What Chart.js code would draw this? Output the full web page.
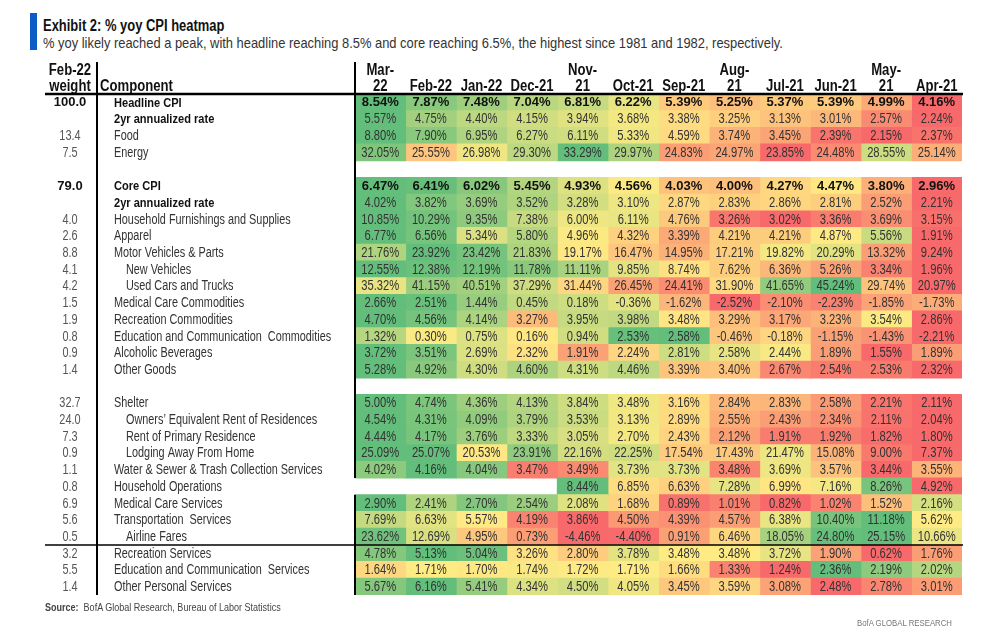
<!DOCTYPE html>
<html>
<head>
<meta charset="utf-8">
<title>% yoy CPI heatmap</title>
<script src="https://cdn.jsdelivr.net/npm/chart.js@4.4.1/dist/chart.umd.min.js"></script>
<style>
  body { margin: 0; background: #fff; }
  #wrap { position: relative; width: 986px; height: 638px; font-family: 'Liberation Sans', Arial, sans-serif; color: #222; }
  #bar { position: absolute; left: 30px; top: 13px; width: 7px; height: 37px; background: #0b5cc4; }
  .sq { position: absolute; white-space: nowrap; transform: scaleX(0.82); transform-origin: 0 0; }
  #title { left: 43px; top: 16px; font-size: 16px; font-weight: bold; line-height: 20px; color: #111; transform: scaleX(0.81); }
  #subtitle { left: 43px; top: 34px; font-size: 15px; line-height: 18px; color: #333; transform: scaleX(0.86); }
  #source { left: 45px; top: 601px; font-size: 11px; color: #444; }
  #footer { left: 857px; top: 617px; font-size: 9.5px; color: #777; }
  canvas { position: absolute; left: 0; top: 0; }
</style>
</head>
<body>
<div id="wrap">
  <div id="bar"></div>
  <div id="title" class="sq">Exhibit 2: % yoy CPI heatmap</div>
  <div id="subtitle" class="sq">% yoy likely reached a peak, with headline reaching 8.5% and core reaching 6.5%, the highest since 1981 and 1982, respectively.</div>
  <canvas id="heatmap" width="986" height="638"></canvas>
  <div id="source" class="sq"><b>Source:</b>&nbsp; BofA Global Research, Bureau of Labor Statistics</div>
  <div id="footer" class="sq">BofA GLOBAL RESEARCH</div>
</div>
<script>
const months = ['Mar-22', 'Feb-22', 'Jan-22', 'Dec-21', 'Nov-21', 'Oct-21', 'Sep-21', 'Aug-21', 'Jul-21', 'Jun-21', 'May-21', 'Apr-21'];
const monthHeads = [['Mar-', '22'], ['Feb-22'], ['Jan-22'], ['Dec-21'], ['Nov-', '21'], ['Oct-21'], ['Sep-21'], ['Aug-', '21'], ['Jul-21'], ['Jun-21'], ['May-', '21'], ['Apr-21']];

const components = ['Headline CPI', '2yr annualized rate', 'Food', 'Energy', '',
  'Core CPI', '2yr annualized rate', 'Household Furnishings and Supplies', 'Apparel', 'Motor Vehicles & Parts',
  'New Vehicles', 'Used Cars and Trucks', 'Medical Care Commodities', 'Recreation Commodities',
  'Education and Communication  Commodities', 'Alcoholic Beverages', 'Other Goods', '',
  'Shelter', 'Owners\u2019 Equivalent Rent of Residences', 'Rent of Primary Residence', 'Lodging Away From Home',
  'Water & Sewer & Trash Collection Services', 'Household Operations', 'Medical Care Services',
  'Transportation  Services', 'Airline Fares', 'Recreation Services', 'Education and Communication  Services',
  'Other Personal Services'];
const weights = ['100.0', '', '13.4', '7.5', '', '79.0', '', '4.0', '2.6', '8.8', '4.1', '4.2', '1.5', '1.9', '0.8', '0.9', '1.4', '',
  '32.7', '24.0', '7.3', '0.9', '1.1', '0.8', '6.9', '5.6', '0.5', '3.2', '5.5', '1.4'];

const headlineCpi = [8.54, 7.87, 7.48, 7.04, 6.81, 6.22, 5.39, 5.25, 5.37, 5.39, 4.99, 4.16];
const headline2yr = [5.57, 4.75, 4.40, 4.15, 3.94, 3.68, 3.38, 3.25, 3.13, 3.01, 2.57, 2.24];
const food = [8.80, 7.90, 6.95, 6.27, 6.11, 5.33, 4.59, 3.74, 3.45, 2.39, 2.15, 2.37];
const energy = [32.05, 25.55, 26.98, 29.30, 33.29, 29.97, 24.83, 24.97, 23.85, 24.48, 28.55, 25.14];
const coreCpi = [6.47, 6.41, 6.02, 5.45, 4.93, 4.56, 4.03, 4.00, 4.27, 4.47, 3.80, 2.96];
const core2yr = [4.02, 3.82, 3.69, 3.52, 3.28, 3.10, 2.87, 2.83, 2.86, 2.81, 2.52, 2.21];
const furnishings = [10.85, 10.29, 9.35, 7.38, 6.00, 6.11, 4.76, 3.26, 3.02, 3.36, 3.69, 3.15];
const apparel = [6.77, 6.56, 5.34, 5.80, 4.96, 4.32, 3.39, 4.21, 4.21, 4.87, 5.56, 1.91];
const motorVehicles = [21.76, 23.92, 23.42, 21.83, 19.17, 16.47, 14.95, 17.21, 19.82, 20.29, 13.32, 9.24];
const newVehicles = [12.55, 12.38, 12.19, 11.78, 11.11, 9.85, 8.74, 7.62, 6.36, 5.26, 3.34, 1.96];
const usedCars = [35.32, 41.15, 40.51, 37.29, 31.44, 26.45, 24.41, 31.90, 41.65, 45.24, 29.74, 20.97];
const medCommodities = [2.66, 2.51, 1.44, 0.45, 0.18, -0.36, -1.62, -2.52, -2.10, -2.23, -1.85, -1.73];
const recCommodities = [4.70, 4.56, 4.14, 3.27, 3.95, 3.98, 3.48, 3.29, 3.17, 3.23, 3.54, 2.86];
const eduCommodities = [1.32, 0.30, 0.75, 0.16, 0.94, 2.53, 2.58, -0.46, -0.18, -1.15, -1.43, -2.21];
const alcohol = [3.72, 3.51, 2.69, 2.32, 1.91, 2.24, 2.81, 2.58, 2.44, 1.89, 1.55, 1.89];
const otherGoods = [5.28, 4.92, 4.30, 4.60, 4.31, 4.46, 3.39, 3.40, 2.67, 2.54, 2.53, 2.32];
const shelter = [5.00, 4.74, 4.36, 4.13, 3.84, 3.48, 3.16, 2.84, 2.83, 2.58, 2.21, 2.11];
const ownersRent = [4.54, 4.31, 4.09, 3.79, 3.53, 3.13, 2.89, 2.55, 2.43, 2.34, 2.11, 2.04];
const rentPrimary = [4.44, 4.17, 3.76, 3.33, 3.05, 2.70, 2.43, 2.12, 1.91, 1.92, 1.82, 1.80];
const lodging = [25.09, 25.07, 20.53, 23.91, 22.16, 22.25, 17.54, 17.43, 21.47, 15.08, 9.00, 7.37];
const waterSewer = [4.02, 4.16, 4.04, 3.47, 3.49, 3.73, 3.73, 3.48, 3.69, 3.57, 3.44, 3.55];
const householdOps = [null, null, null, null, 8.44, 6.85, 6.63, 7.28, 6.99, 7.16, 8.26, 4.92];
const medServices = [2.90, 2.41, 2.70, 2.54, 2.08, 1.68, 0.89, 1.01, 0.82, 1.02, 1.52, 2.16];
const transport = [7.69, 6.63, 5.57, 4.19, 3.86, 4.50, 4.39, 4.57, 6.38, 10.40, 11.18, 5.62];
const airlineFares = [23.62, 12.69, 4.95, 0.73, -4.46, -4.40, 0.91, 6.46, 18.05, 24.80, 25.15, 10.66];
const recServices = [4.78, 5.13, 5.04, 3.26, 2.80, 3.78, 3.48, 3.48, 3.72, 1.90, 0.62, 1.76];
const eduServices = [1.64, 1.71, 1.70, 1.74, 1.72, 1.71, 1.66, 1.33, 1.24, 2.36, 2.19, 2.02];
const otherPersonal = [5.67, 6.16, 5.41, 4.34, 4.50, 4.05, 3.45, 3.59, 3.08, 2.48, 2.78, 3.01];

const rowValues = [headlineCpi, headline2yr, food, energy, null,
  coreCpi, core2yr, furnishings, apparel, motorVehicles, newVehicles, usedCars, medCommodities,
  recCommodities, eduCommodities, alcohol, otherGoods, null,
  shelter, ownersRent, rentPrimary, lodging, waterSewer, householdOps, medServices, transport,
  airlineFares, recServices, eduServices, otherPersonal];

const boldLabelRows = [0, 1, 5, 6];
const boldValueRows = [0, 5];
const indentRows = [10, 11, 19, 20, 21, 26];
const ruleAfterRow = 26;

const lowColor = [248, 105, 107];
const midColor = [255, 235, 132];
const highColor = [99, 190, 123];
const face = "'Liberation Sans', Arial, sans-serif";
const squeeze = 0.82;

function rowScale(vals) {
    if (!vals) return null;
    const v = vals.filter(x => x !== null).sort((a, b) => a - b);
    const pos = (v.length - 1) / 2;
    const lo = Math.floor(pos), hi = Math.ceil(pos);
    return { min: v[0], mid: v[lo] + (v[hi] - v[lo]) * (pos - lo), max: v[v.length - 1] };
}
const rowScales = rowValues.map(rowScale);

function mix(a, b, t) {
    return 'rgb(' + a.map((x, i) => Math.round(x + (b[i] - x) * t)).join(',') + ')';
}

function cellColor(r, c) {
    const vals = rowValues[r];
    if (!vals || vals[c] === null) return 'rgba(0,0,0,0)';
    const v = vals[c];
    const s = rowScales[r];
    if (v <= s.mid) return mix(lowColor, midColor, s.mid === s.min ? 1 : (v - s.min) / (s.mid - s.min));
    return mix(midColor, highColor, (v - s.mid) / (s.max - s.mid));
}

// narrow look: same face, squeezed horizontally through fillText's maxWidth
function narrowText(ctx, text, px, py, k) {
    ctx.fillText(text, px, py, ctx.measureText(text).width * (k || squeeze));
}

const tableText = {
    id: 'tableText',
    afterDraw(chart) {
        const { ctx, chartArea, scales: { x, y } } = chart;
        const left = chartArea.left, top = chartArea.top, right = chartArea.right, bottom = chartArea.bottom;
        ctx.save();
        ctx.textBaseline = 'middle';

        rowValues.forEach((vals, r) => {
            if (!vals) return;
            const py = y.getPixelForValue(r) + 0.5;
            const bold = boldValueRows.includes(r);
            ctx.font = bold ? 'bold 13px ' + face : '14px ' + face;
            ctx.fillStyle = bold ? '#111' : '#333';
            ctx.textAlign = 'center';
            vals.forEach((v, c) => {
                if (v === null) return;
                narrowText(ctx, v.toFixed(2) + '%', x.getPixelForValue(c + 0.5), py, bold ? 1 : 0.8);
            });
        });

        components.forEach((name, r) => {
            const py = y.getPixelForValue(r) + 0.5;
            const bold = boldLabelRows.includes(r);
            ctx.textAlign = 'left';
            ctx.font = bold ? 'bold 13.5px ' + face : '14px ' + face;
            ctx.fillStyle = bold ? '#111' : '#333';
            narrowText(ctx, name, left - 241 + (indentRows.includes(r) ? 12 : 0), py, bold ? squeeze : 0.775);
            if (weights[r]) {
                const bw = boldValueRows.includes(r);
                ctx.textAlign = 'center';
                ctx.font = bw ? 'bold 13px ' + face : '14px ' + face;
                ctx.fillStyle = bw ? '#111' : '#555';
                narrowText(ctx, weights[r], left - 285, py, bw ? 1 : 0.78);
            }
        });

        ctx.font = 'bold 16px ' + face;
        ctx.fillStyle = '#111';
        monthHeads.forEach((lines, c) => {
            const px = x.getPixelForValue(c + 0.5);
            ctx.textAlign = 'center';
            if (lines.length === 2) narrowText(ctx, lines[0], px, top - 23);
            narrowText(ctx, lines[lines.length - 1], px, top - 7);
        });
        ctx.textAlign = 'center';
        narrowText(ctx, 'Feb-22', left - 285, top - 23);
        narrowText(ctx, 'weight', left - 285, top - 7);
        ctx.textAlign = 'left';
        narrowText(ctx, 'Component', left - 255, top - 7);

        ctx.strokeStyle = '#000';
        ctx.lineWidth = 2.5;
        ctx.beginPath();
        ctx.moveTo(45, top);
        ctx.lineTo(right + 1, top);
        ctx.stroke();

        ctx.lineWidth = 1.5;
        const ruleY = y.getPixelForValue(ruleAfterRow + 0.5);
        ctx.beginPath();
        ctx.moveTo(45, ruleY);
        ctx.lineTo(right + 1, ruleY);
        ctx.stroke();

        ctx.lineWidth = 2;
        ctx.beginPath();
        ctx.moveTo(left - 258, top - 32);
        ctx.lineTo(left - 258, bottom);
        ctx.stroke();

        let segStart = top - 32;
        rowValues.forEach((vals, r) => {
            if (vals && vals[0] === null) {
                const a = y.getPixelForValue(r - 0.5), b = y.getPixelForValue(r + 0.5);
                ctx.beginPath();
                ctx.moveTo(left, segStart);
                ctx.lineTo(left, a);
                ctx.stroke();
                segStart = b;
            }
        });
        ctx.beginPath();
        ctx.moveTo(left, segStart);
        ctx.lineTo(left, bottom);
        ctx.stroke();

        ctx.restore();
    }
};

const datasets = months.map((m, c) => ({
    label: m,
    data: rowValues.map(vals => (vals && vals[c] !== null) ? [c, c + 1] : null),
    backgroundColor: ctx => cellColor(ctx.dataIndex, c),
    borderWidth: 0,
    barPercentage: 1,
    categoryPercentage: 1,
    grouped: false,
    inflateAmount: 0.5
}));

new Chart(document.getElementById('heatmap'), {
    type: 'bar',
    data: { labels: components.map((n, i) => i), datasets: datasets },
    options: {
        indexAxis: 'y',
        responsive: false,
        animation: false,
        layout: { padding: { left: 355, right: 24, top: 94, bottom: 43 } },
        scales: {
            x: { type: 'linear', min: 0, max: months.length, display: false },
            y: { display: false }
        },
        plugins: { legend: { display: false }, tooltip: { enabled: false } }
    },
    plugins: [tableText]
});
</script>
</body>
</html>
